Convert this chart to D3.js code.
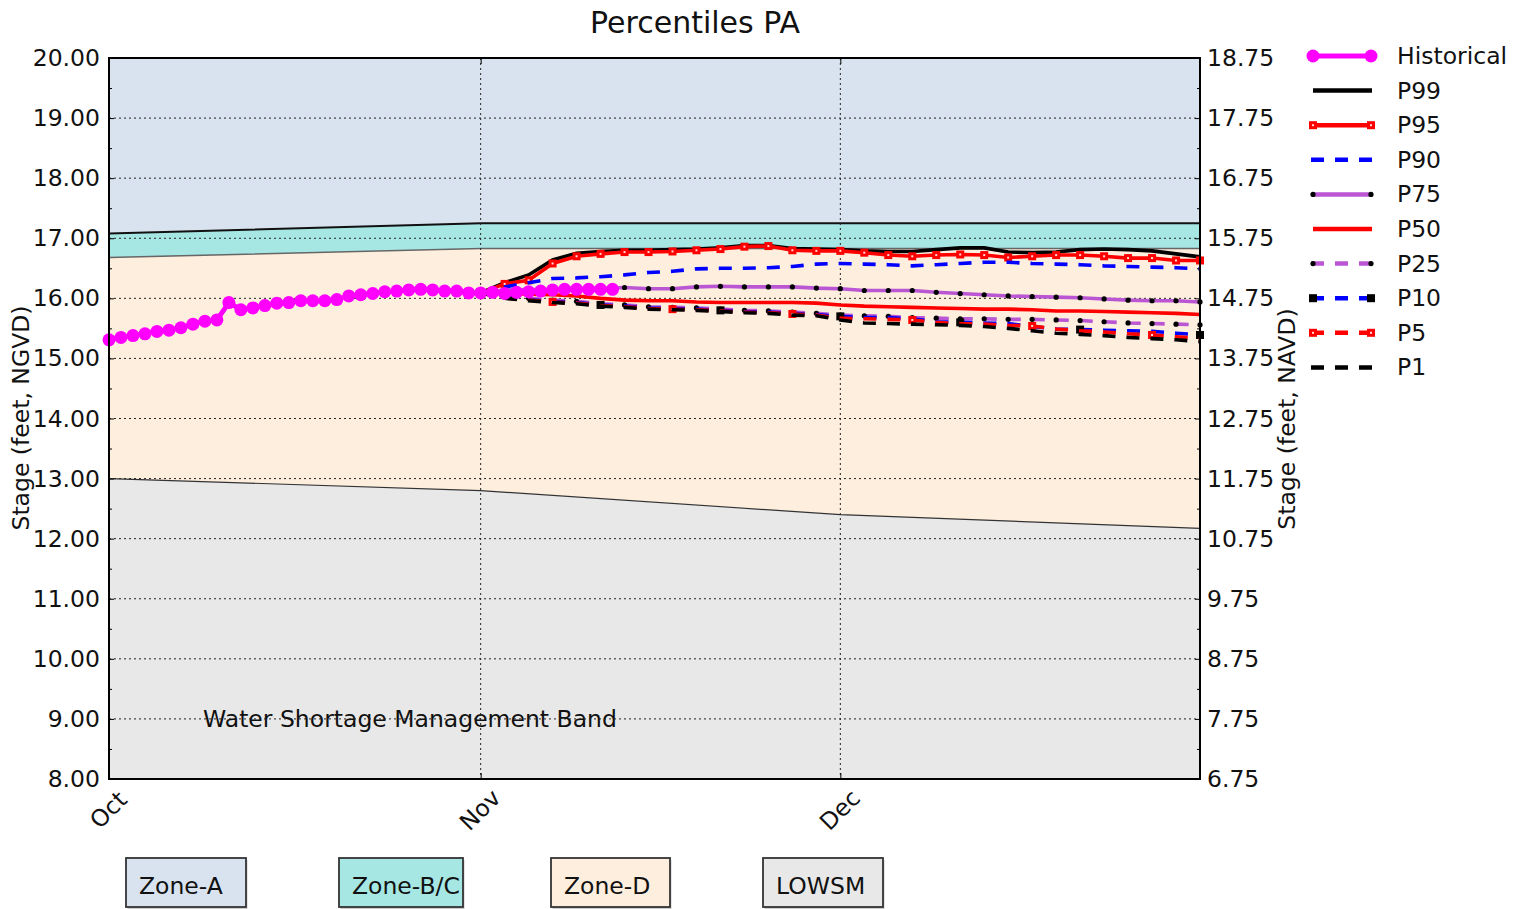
<!DOCTYPE html>
<html>
<head>
<meta charset="utf-8">
<script src="https://cdn.jsdelivr.net/npm/d3@7"></script>
<style>
  html, body { margin: 0; padding: 0; background: #ffffff; }
  svg { display: block; font-family: "DejaVu Sans", sans-serif; }
</style>
</head>
<body>
<svg id="chart" width="1526" height="909"></svg>
<script>
// ---------------- DATA ----------------
const startDate = "2023-10-01";
const endDate = "2023-12-31";
const monthTicks = ["2023-10-01", "2023-11-01", "2023-12-01"];

// zone boundaries (feet NGVD)
const zoneDates = ["2023-10-01", "2023-11-01", "2023-12-01", "2023-12-31"];
const zoneTop = [20.0, 20.0, 20.0, 20.0];
const zoneA_BC = [17.08, 17.25, 17.25, 17.25];
const zoneBC_D = [16.68, 16.83, 16.83, 16.83];
const zoneD_LOW = [13.00, 12.80, 12.40, 12.17];
const zoneBottom = [8.0, 8.0, 8.0, 8.0];

// historical daily stage from Oct 1
const historicalStart = "2023-10-01";
const historical = [
  15.31, 15.35, 15.38, 15.41, 15.45, 15.47, 15.51, 15.57, 15.62, 15.64,
  15.93, 15.81, 15.84, 15.88, 15.92, 15.93, 15.96, 15.96, 15.96, 15.98,
  16.04, 16.06, 16.08, 16.11, 16.12, 16.14, 16.15, 16.14, 16.12, 16.12,
  16.09,
  16.09, 16.10, 16.08, 16.10, 16.11, 16.12, 16.14, 16.15, 16.15, 16.15,
  16.15, 16.15
];

// percentile forecasts, every 2 days from Nov 1 to Dec 31
const pctStart = "2023-11-01";
const pctStepDays = 2;
const P99 = [16.09, 16.26, 16.39, 16.64, 16.75, 16.78, 16.80, 16.80, 16.81, 16.82, 16.84, 16.88, 16.88, 16.83, 16.82,
             16.81, 16.79, 16.78, 16.78, 16.81, 16.84, 16.84, 16.77, 16.76, 16.77, 16.81, 16.82, 16.81, 16.79, 16.74, 16.69];
const P95 = [16.09, 16.24, 16.30, 16.58, 16.70, 16.74, 16.77, 16.77, 16.78, 16.80, 16.82, 16.86, 16.87, 16.80, 16.79,
             16.79, 16.76, 16.72, 16.70, 16.72, 16.73, 16.72, 16.68, 16.70, 16.72, 16.72, 16.70, 16.67, 16.67, 16.63, 16.63];
const P90 = [16.09, 16.19, 16.26, 16.33, 16.34, 16.36, 16.39, 16.43, 16.45, 16.49, 16.50, 16.50, 16.51, 16.53, 16.57,
             16.58, 16.57, 16.56, 16.54, 16.56, 16.58, 16.60, 16.60, 16.58, 16.57, 16.56, 16.54, 16.53, 16.52, 16.51, 16.49];
const P75 = [16.09, 16.14, 16.14, 16.15, 16.16, 16.16, 16.18, 16.16, 16.16, 16.19, 16.20, 16.19, 16.19, 16.19, 16.17,
             16.16, 16.13, 16.13, 16.13, 16.10, 16.08, 16.06, 16.04, 16.03, 16.02, 16.01, 15.99, 15.97, 15.96, 15.96, 15.94];
const P50 = [16.09, 16.09, 16.07, 16.06, 16.04, 16.00, 15.97, 15.96, 15.96, 15.94, 15.93, 15.93, 15.93, 15.93, 15.92,
             15.89, 15.87, 15.86, 15.85, 15.84, 15.83, 15.82, 15.82, 15.81, 15.79, 15.79, 15.78, 15.77, 15.76, 15.75, 15.73];
const P25 = [16.09, 16.04, 16.00, 15.97, 15.95, 15.91, 15.89, 15.86, 15.85, 15.84, 15.82, 15.80, 15.79, 15.77, 15.75,
             15.72, 15.71, 15.70, 15.68, 15.67, 15.66, 15.66, 15.65, 15.65, 15.64, 15.63, 15.61, 15.59, 15.58, 15.57, 15.56];
const P10 = [16.09, 16.02, 15.98, 15.95, 15.93, 15.89, 15.87, 15.84, 15.83, 15.82, 15.80, 15.78, 15.77, 15.75, 15.73,
             15.70, 15.68, 15.68, 15.66, 15.61, 15.60, 15.59, 15.58, 15.53, 15.49, 15.48, 15.47, 15.46, 15.45, 15.42, 15.39];
const P5  = [16.09, 16.01, 15.97, 15.94, 15.92, 15.88, 15.86, 15.83, 15.82, 15.81, 15.79, 15.77, 15.76, 15.74, 15.72,
             15.67, 15.66, 15.65, 15.64, 15.60, 15.58, 15.57, 15.55, 15.54, 15.49, 15.46, 15.44, 15.41, 15.39, 15.36, 15.33];
const P1  = [16.09, 16.00, 15.96, 15.93, 15.91, 15.87, 15.85, 15.82, 15.81, 15.80, 15.78, 15.76, 15.75, 15.72, 15.71,
             15.64, 15.59, 15.58, 15.57, 15.56, 15.55, 15.53, 15.50, 15.46, 15.42, 15.40, 15.38, 15.35, 15.33, 15.31, 15.28];

const leftTicks = [8, 9, 10, 11, 12, 13, 14, 15, 16, 17, 18, 19, 20];
const rightTicks = [6.75, 7.75, 8.75, 9.75, 10.75, 11.75, 12.75, 13.75, 14.75, 15.75, 16.75, 17.75, 18.75];
const navdOffset = 1.25;

const zoneNames = ["Zone-A", "Zone-B/C", "Zone-D", "LOWSM"];
const zoneColors = ["#d9e3ef", "#a6e7e4", "#fdeedd", "#e8e8e8"];

// ---------------- CHART ----------------
const svg = d3.select("#chart");
const M = { left: 109, right: 1200, top: 58, bottom: 779 };
const FONT = 23.5;

const parse = d3.utcParse("%Y-%m-%d");
const x = d3.scaleUtc().domain([parse(startDate), parse(endDate)]).range([M.left, M.right]);
const y = d3.scaleLinear().domain([8, 20]).range([M.bottom, M.top]);
const yR = d3.scaleLinear().domain([8 - navdOffset, 20 - navdOffset]).range([M.bottom, M.top]);

const zd = zoneDates.map(parse);
const bands = [
  [zoneTop, zoneA_BC], [zoneA_BC, zoneBC_D], [zoneBC_D, zoneD_LOW], [zoneD_LOW, zoneBottom]
];
const area = d3.area().x(d => x(d.t)).y0(d => y(d.lo)).y1(d => y(d.hi));
bands.forEach((b, i) => {
  const pts = zd.map((t, k) => ({ t, hi: b[0][k], lo: b[1][k] }));
  svg.append("path").attr("d", area(pts)).attr("fill", zoneColors[i]);
});
const bline = d3.line().x(d => x(d.t)).y(d => y(d.v));
[[zoneA_BC, "#111", 2], [zoneBC_D, "#666", 1.5], [zoneD_LOW, "#333", 1.2]].forEach(([arr, c, w]) => {
  svg.append("path").attr("d", bline(zd.map((t, k) => ({ t, v: arr[k] }))))
    .attr("fill", "none").attr("stroke", c).attr("stroke-width", w);
});

// band label
svg.append("text").attr("x", 203).attr("y", y(9.0) + 8)
  .attr("font-size", FONT).attr("fill", "#111").text("Water Shortage Management Band");

// grid
const grid = svg.append("g").attr("stroke", "#222").attr("stroke-width", 1).attr("stroke-dasharray", "2,3");
leftTicks.slice(1, -1).forEach(v => {
  grid.append("line").attr("x1", M.left).attr("x2", M.right).attr("y1", y(v)).attr("y2", y(v));
});
monthTicks.slice(1).forEach(d => {
  grid.append("line").attr("x1", x(parse(d))).attr("x2", x(parse(d))).attr("y1", M.top).attr("y2", M.bottom);
});

// series
const pctDates = P99.map((_, i) => d3.utcDay.offset(parse(pctStart), i * pctStepDays));
const series = [
  { name: "P99", data: P99, color: "#000000", dash: null, marker: null },
  { name: "P95", data: P95, color: "#ff0000", dash: null, marker: "rsq", every: 1 },
  { name: "P90", data: P90, color: "#0000ff", dash: "13,11", marker: null },
  { name: "P75", data: P75, color: "#ba55d3", dash: null, marker: "dot", every: 1 },
  { name: "P50", data: P50, color: "#ff0000", dash: null, marker: null },
  { name: "P25", data: P25, color: "#ba55d3", dash: "13,11", marker: "dot", every: 1 },
  { name: "P10", data: P10, color: "#0000ff", dash: "13,11", marker: "bsq", every: 5, off: 0 },
  { name: "P5",  data: P5,  color: "#ff0000", dash: "13,11", marker: "rsq", every: 5, off: 3 },
  { name: "P1",  data: P1,  color: "#000000", dash: "13,11", marker: null }
];
const line = d3.line().x(d => x(d.t)).y(d => y(d.v));

function drawMarker(g, type, cx, cy, color) {
  if (type === "rsq") {
    g.append("rect").attr("x", cx - 4).attr("y", cy - 4).attr("width", 8).attr("height", 8)
      .attr("fill", color);
    g.append("rect").attr("x", cx - 1).attr("y", cy - 1).attr("width", 2).attr("height", 2)
      .attr("fill", "#ffd8d8");
  } else if (type === "bsq") {
    g.append("rect").attr("x", cx - 4).attr("y", cy - 4).attr("width", 8).attr("height", 8).attr("fill", "#000");
  } else if (type === "dot") {
    g.append("circle").attr("cx", cx).attr("cy", cy).attr("r", 2.6).attr("fill", "#000");
  } else if (type === "circ") {
    g.append("circle").attr("cx", cx).attr("cy", cy).attr("r", 6.5).attr("fill", color);
  }
}

const plotG = svg.append("g");
series.forEach(s => {
  const pts = s.data.map((v, i) => ({ t: pctDates[i], v }));
  const p = plotG.append("path").attr("d", line(pts)).attr("fill", "none")
    .attr("stroke", s.color).attr("stroke-width", 3.6);
  if (s.dash) p.attr("stroke-dasharray", s.dash);
  if (s.marker) {
    pts.forEach((d, i) => {
      if ((i - (s.off || 0)) % s.every === 0 && i >= (s.off || 0)) drawMarker(plotG, s.marker, x(d.t), y(d.v), s.color);
    });
  }
});

// historical
const histPts = historical.map((v, i) => ({ t: d3.utcDay.offset(parse(historicalStart), i), v }));
plotG.append("path").attr("d", line(histPts)).attr("fill", "none").attr("stroke", "#ff00ff").attr("stroke-width", 5);
histPts.forEach(d => drawMarker(plotG, "circ", x(d.t), y(d.v), "#ff00ff"));

// frame
svg.append("rect").attr("x", M.left).attr("y", M.top).attr("width", M.right - M.left).attr("height", M.bottom - M.top)
  .attr("fill", "none").attr("stroke", "#000").attr("stroke-width", 2);

// axes
function styleAxis(g) {
  g.select(".domain").remove();
  g.selectAll("text").attr("font-size", FONT).attr("font-family", "DejaVu Sans").attr("fill", "#111");
  g.selectAll("line").attr("stroke", "#000");
}
const minorLeft = d3.range(8.5, 20, 1);
svg.append("g").attr("transform", `translate(${M.left},0)`)
  .call(d3.axisLeft(y).tickValues(leftTicks).tickFormat(d3.format(".2f")).tickSize(-5).tickPadding(9)).call(styleAxis);
svg.append("g").attr("transform", `translate(${M.left},0)`)
  .call(d3.axisLeft(y).tickValues(minorLeft).tickFormat("").tickSize(-3)).call(styleAxis);
svg.append("g").attr("transform", `translate(${M.right},0)`)
  .call(d3.axisRight(yR).tickValues(rightTicks).tickFormat(d3.format(".2f")).tickSize(-5).tickPadding(7)).call(styleAxis);
svg.append("g").attr("transform", `translate(${M.right},0)`)
  .call(d3.axisRight(yR).tickValues(minorLeft.map(v => v - navdOffset)).tickFormat("").tickSize(-3)).call(styleAxis);

const xb = svg.append("g").attr("transform", `translate(0,${M.bottom})`)
  .call(d3.axisBottom(x).tickValues(monthTicks.map(parse)).tickFormat(d3.utcFormat("%b")).tickSize(-6).tickPadding(0))
  .call(styleAxis);
xb.selectAll("text")
  .attr("text-anchor", "middle").attr("dominant-baseline", "central")
  .attr("y", 31).attr("x", -1).attr("dy", null)
  .attr("transform", "rotate(-45 -1 31)");
svg.append("g").attr("transform", `translate(0,${M.top})`)
  .call(d3.axisTop(x).tickValues(monthTicks.map(parse)).tickFormat("").tickSize(-6)).call(styleAxis);

// title and axis labels
svg.append("text").attr("x", 695).attr("y", 33).attr("text-anchor", "middle")
  .attr("font-size", 30).attr("fill", "#111").text("Percentiles PA");
svg.append("text").attr("transform", `translate(29,418) rotate(-90)`).attr("text-anchor", "middle")
  .attr("font-size", FONT).attr("fill", "#111").text("Stage (feet, NGVD)");
svg.append("text").attr("transform", `translate(1295,419) rotate(-90)`).attr("text-anchor", "middle")
  .attr("font-size", FONT).attr("fill", "#111").text("Stage (feet, NAVD)");

// legend
const legendItems = [{ name: "Historical", color: "#ff00ff", dash: null, marker: "circ", w: 5 }]
  .concat(series.map(s => ({ name: s.name, color: s.color, dash: s.dash, marker: s.marker, w: 4.5 })));
const lg = svg.append("g");
legendItems.forEach((it, i) => {
  const ly = 56 + i * 34.6;
  const l = lg.append("line").attr("x1", 1313).attr("x2", 1372).attr("y1", ly).attr("y2", ly)
    .attr("stroke", it.color).attr("stroke-width", it.w);
  if (it.dash) l.attr("stroke-dasharray", it.dash).attr("x1", 1311);
  if (it.marker) { drawMarker(lg, it.marker, 1313, ly, it.color); drawMarker(lg, it.marker, 1371, ly, it.color); }
  lg.append("text").attr("x", 1397).attr("y", ly + 8).attr("font-size", FONT).attr("fill", "#111").text(it.name);
});

// zone legend boxes
const boxX = [126, 339, 551, 763];
const boxW = [120, 124, 119, 120];
zoneNames.forEach((n, i) => {
  svg.append("rect").attr("x", boxX[i] + 1.5).attr("y", 860).attr("width", boxW[i]).attr("height", 49)
    .attr("fill", "#999").attr("opacity", 0.5);
  svg.append("rect").attr("x", boxX[i]).attr("y", 858).attr("width", boxW[i]).attr("height", 49)
    .attr("fill", zoneColors[i]).attr("stroke", "#333").attr("stroke-width", 1.8);
  svg.append("text").attr("x", boxX[i] + 13).attr("y", 894).attr("font-size", FONT).attr("fill", "#111").text(n);
});
</script>
</body>
</html>
